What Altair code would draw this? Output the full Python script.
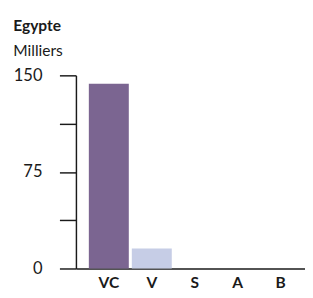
import altair as alt
import pandas as pd

categories = ["VC", "V", "S", "A", "B"]
values = [143.5, 15.5, 0, 0, 0]
colors = ["#7b6591", "#c6cde6", "#c6cde6", "#c6cde6", "#c6cde6"]

df = pd.DataFrame({"cat": categories, "val": values, "col": colors})

FONT = "Lato"

chart = alt.Chart(df).mark_bar().encode(
    x=alt.X("cat:N", sort=categories,
            scale=alt.Scale(paddingInner=0.07, paddingOuter=0.2, align=0.75),
            axis=alt.Axis(title=None, labelAngle=0, ticks=False, domainColor="#1a1a1a",
                          domainWidth=1.5, labelFont=FONT, labelFontWeight="bold",
                          labelFontSize=16, labelColor="#1a1a1a", labelPadding=7)),
    y=alt.Y("val:Q", scale=alt.Scale(domain=[0, 150], nice=False),
            axis=alt.Axis(title=None, values=[0, 37.5, 75, 112.5, 150],
                          labelExpr="datum.value % 75 == 0 ? datum.label : ''",
                          tickSize=17, tickWidth=1.5, tickColor="#1a1a1a",
                          domainColor="#1a1a1a", domainWidth=1.5, grid=False,
                          labelFont=FONT, labelFontSize=17, labelColor="#1a1a1a",
                          labelPadding=18)),
    color=alt.Color("col:N", scale=None),
).properties(
    width=236, height=199,
    padding={"left": 5, "top": 6, "right": 0, "bottom": 3},
    title=alt.TitleParams(text="Egypte", subtitle="Milliers", anchor="start", frame="bounds",
                          font=FONT, fontSize=16, fontWeight="bold", color="#1a1a1a",
                          subtitleFont=FONT, subtitleFontSize=16, subtitleColor="#1a1a1a",
                          subtitlePadding=10, offset=8),
).configure_view(stroke=None)

chart.save("out.html", embed_options={"renderer": "svg", "actions": False})
